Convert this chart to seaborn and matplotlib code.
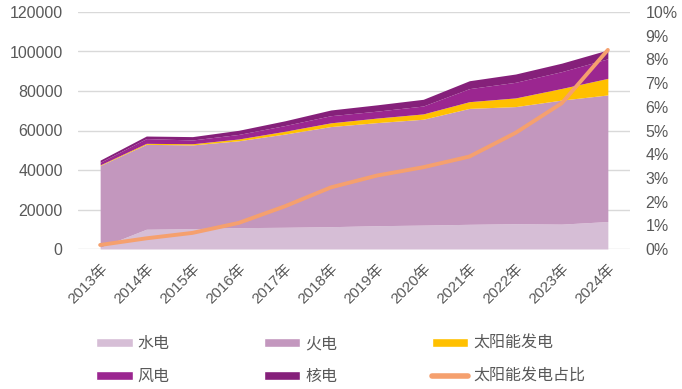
import numpy as np
import pandas as pd
import matplotlib
matplotlib.use("Agg")
import matplotlib.pyplot as plt
import seaborn as sns
from matplotlib.patches import Patch
from matplotlib.lines import Line2D
from matplotlib.ticker import PercentFormatter

# data
years = ["2013年", "2014年", "2015年", "2016年", "2017年", "2018年",
         "2019年", "2020年", "2021年", "2022年", "2023年", "2024年"]
hydro = [800, 10000, 10300, 10800, 11000, 11300, 11800, 12100, 12500, 12800, 12600, 13900]
thermal = [41500, 43000, 42400, 44000, 47200, 50700, 52200, 53600, 58700, 59300, 62800, 64100]
solar = [300, 500, 600, 900, 1400, 1900, 2300, 2700, 3400, 4400, 5900, 8400]
wind = [1300, 2400, 1900, 2300, 2900, 3600, 3500, 4000, 6600, 7900, 8500, 9900]
nuclear = [1100, 1300, 1700, 2100, 2400, 2900, 3200, 3400, 4000, 4200, 4300, 4500]
solar_share = [0.0017, 0.0045, 0.0068, 0.011, 0.018, 0.026, 0.031, 0.0345, 0.039, 0.049, 0.0615, 0.084]

series_names = ["水电", "火电", "太阳能发电", "风电", "核电"]
series_colors = ["#D6BED6", "#C397BE", "#FFC000", "#9B2690", "#85207A"]
line_name = "太阳能发电占比"
line_color = "#F5A06E"

sns.set_theme(style="white")
plt.rcParams["font.family"] = ["Liberation Sans", "Noto Sans CJK SC", "DejaVu Sans"]
grey = "#595959"

fig = plt.figure(figsize=(6.82, 3.89), dpi=100)
ax = fig.add_axes([78 / 682, 1 - 249 / 389, (630 - 78) / 682, (249 - 12) / 389])

x = np.arange(len(years))
ax.stackplot(x, hydro, thermal, solar, wind, nuclear, colors=series_colors, linewidth=0)

ax.set_ylim(0, 120000)
ax.set_yticks(range(0, 120001, 20000))
ax.set_xlim(-0.48, len(years) - 1 + 0.48)
ax.set_xticks(x)
ax.set_xticklabels(years, rotation=45, ha="right", rotation_mode="anchor")
ax.yaxis.grid(True, color="#D9D9D9", linewidth=1)
ax.set_axisbelow(True)
for s in ax.spines.values():
    s.set_visible(False)
ax.tick_params(axis="y", length=0, pad=11, labelsize=11.5, labelcolor=grey)
ax.tick_params(axis="x", length=0, pad=9, labelsize=11, labelcolor=grey)

ax2 = ax.twinx()
df_line = pd.DataFrame({"x": x, "share": solar_share})
sns.lineplot(data=df_line, x="x", y="share", ax=ax2, color=line_color, linewidth=2.8,
             legend=False)
ax2.set_ylim(0, 0.10)
ax2.set_yticks(np.arange(0, 0.1001, 0.01))
ax2.yaxis.set_major_formatter(PercentFormatter(1.0, decimals=0))
ax2.set_xlabel("")
ax2.set_ylabel("")
ax.set_xlabel("")
for s in ax2.spines.values():
    s.set_visible(False)
ax2.tick_params(axis="y", length=0, pad=11, labelsize=11.5, labelcolor=grey)
ax2.grid(False)

handles = [Patch(facecolor=series_colors[0]), Patch(facecolor=series_colors[3]),
           Patch(facecolor=series_colors[1]), Patch(facecolor=series_colors[4]),
           Patch(facecolor=series_colors[2]), Line2D([], [], color=line_color, linewidth=4)]
labels = [series_names[0], series_names[3], series_names[1], series_names[4],
          series_names[2], line_name]
fig.legend(handles, labels, ncol=3, loc="center left", bbox_to_anchor=(96 / 682, 1 - 360 / 389),
           frameon=False, fontsize=11.5, handlelength=2.3, handleheight=0.5,
           handletextpad=0.3, columnspacing=5.9, labelspacing=1.1, borderpad=0,
           borderaxespad=0, labelcolor=grey)

fig.savefig("out.png", dpi=100)
